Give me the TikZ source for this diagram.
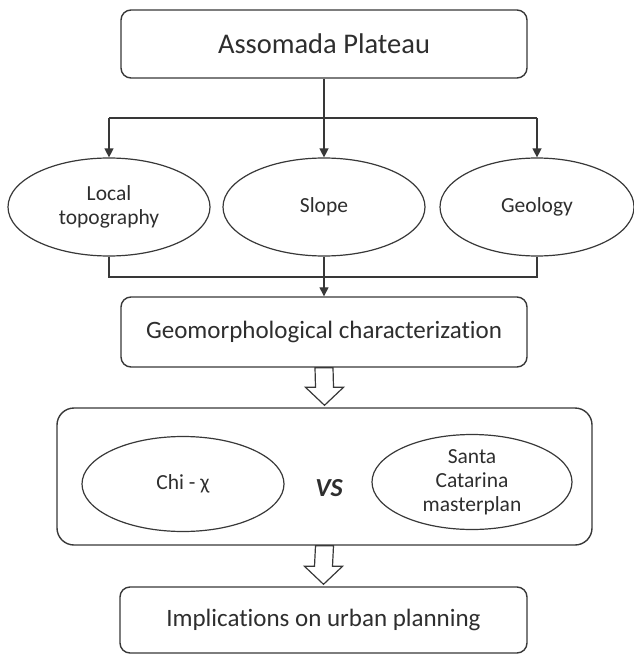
\documentclass[tikz,border=0pt]{standalone}
\usepackage{fontspec}
\setmainfont{Carlito}[Ligatures={NoCommon}]
\usetikzlibrary{shapes.geometric,calc,arrows.meta}
\definecolor{ln}{HTML}{383838}
\definecolor{tx}{HTML}{2E2E2E}
\begin{document}
\begin{tikzpicture}[x=1pt,y=-1pt,
  box/.style={draw=ln,line width=1.4pt,rounded corners=10pt,text=tx,inner sep=0pt},
  oval/.style={draw=ln,line width=1.2pt,ellipse,inner sep=0pt,text=tx,align=center,font=\fontsize{21.5}{24}\selectfont},
  conn/.style={draw=ln,line width=1.3pt},
  arr/.style={conn,-{Triangle[length=9pt,width=9pt]}},
  hollow/.style={draw=ln,line width=1.2pt,fill=white,line join=miter}
]
\useasboundingbox (0,0) rectangle (633,655);
% boxes
\node[box,minimum width=406pt,minimum height=68pt,font=\fontsize{28.5}{32}\selectfont] (top) at (324,44) {Assomada Plateau};
\node[oval,minimum width=202pt,minimum height=98pt] (loc) at (109,207) {Local\\topography};
\node[oval,minimum width=202pt,minimum height=98pt] (slope) at (324,207) {Slope};
\node[oval,minimum width=194pt,minimum height=98pt] (geol) at (537,207) {Geology};
\node[box,minimum width=406pt,minimum height=70pt,font=\fontsize{25}{28}\selectfont] (geo) at (324,332) {Geomorphological characterization};
\node[box,rounded corners=17pt,minimum width=535pt,minimum height=137pt] (big) at (324.5,476.5) {};
\node[oval,minimum width=202pt,minimum height=95pt] (chi) at (183,484) {Chi - χ};
\node[text=tx,font=\fontsize{26}{30}\selectfont\itshape\bfseries] (vs) at (329,488) {VS};
\node[oval,minimum width=200pt,minimum height=95pt] (sc) at (472,482) {Santa\\Catarina\\masterplan};
\node[box,minimum width=407pt,minimum height=66pt,font=\fontsize{25}{28}\selectfont] (impl) at (323.5,620) {Implications on urban planning};
% connectors top
\coordinate (hy) at (top.south |- 0,118);
\coordinate (hl) at (loc.north |- hy);
\coordinate (hr) at (geol.north |- hy);
\draw[conn] (top.south) -- (hy);
\draw[conn] (hl) -- (hr);
\draw[arr] (hl) -- (loc.north);
\draw[arr] (hy) -- (slope.north);
\draw[arr] (hr) -- (geol.north);
% connectors bottom
\coordinate (ll) at (loc.south |- 0,277);
\coordinate (lr) at (geol.south |- 0,277);
\draw[conn] (loc.south) -- (ll) -- (lr) -- (geol.south);
\draw[arr] (slope.south) -- (geo.north);
% hollow arrows
\foreach \a/\b in {geo/big,big/impl}{
  \path (\a.south) coordinate (s) (\b.north) coordinate (e);
  \draw[hollow] ($(s)+(-9,0)$) -- ($(s)+(9,0)$) -- ($(e)+(9,-20)$) -- ($(e)+(19,-20)$) -- ($(e)+(0,-2)$) -- ($(e)+(-19,-20)$) -- ($(e)+(-9,-20)$) -- cycle;
}
\end{tikzpicture}
\end{document}
